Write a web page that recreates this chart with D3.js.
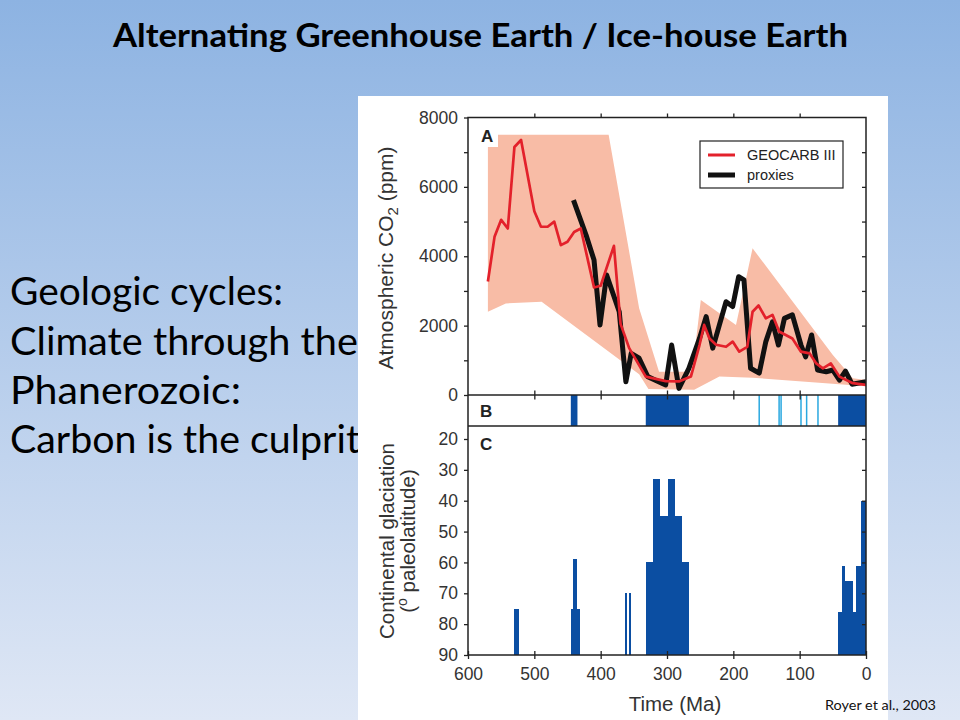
<!DOCTYPE html>
<html><head><meta charset="utf-8">
<script src="https://cdn.jsdelivr.net/npm/d3@7"></script>
<style>html,body{margin:0;padding:0;overflow:hidden;background:#fff}svg{display:block}</style>
</head><body>
<svg id="chart" width="960" height="720"></svg>
<script>
// ---------- data ----------
const timeTicks = [600, 500, 400, 300, 200, 100, 0];
const co2Ticks = [0, 1000, 2000, 3000, 4000, 5000, 6000, 7000, 8000];
const latTicks = [20, 30, 40, 50, 60, 70, 80, 90];

const geocarbAge = [570,560,550,540,530,520,500,490,480,470,460,450,440,430,410,400,380,370,357,332,302,282,264,251,244,236,226,211,201,191,179,171,162,151,141,131,121,111,98,85,75,65,53,40,20,0];
const geocarbCO2 = [3270,4560,5050,4800,7150,7350,5300,4850,4850,5000,4320,4420,4700,4800,3100,3150,4300,2050,1350,530,400,390,530,1440,2020,1630,1450,1390,1540,1250,1390,2400,2580,2210,2310,1830,1730,1630,1250,1200,910,770,910,530,340,290];

const proxyAge = [441,422,410,401,391,372,362,354,342,329,302,293,282,267,251,241,231,221,211,201,192,184,174,161,151,141,132,123,111,98,91,82,73,60,50,40,31,21,0];
const proxyCO2 = [5620,4610,3890,2020,3460,2400,380,1200,1060,530,290,1440,190,770,1630,2260,1350,2020,2690,2550,3410,3320,770,630,1540,2110,1440,2210,2310,1440,1100,1730,720,670,720,430,690,310,380];

const bandUpperAge = [570,388,342,312,262,249,196,171,50,20,0];
const bandUpperCO2 = [7500,7500,2500,670,670,2740,2020,4230,1150,480,430];
const bandLowerAge = [570,543,489,342,328,259,221,171,0];
const bandLowerCO2 = [2400,2640,2690,600,170,150,530,500,250];

const glacialDarkStart = [445, 332, 42];
const glacialDarkEnd = [435, 267, 0];
const glacialLight = [161, 131, 128, 98, 89.5, 72.4];

const glacBarStart = [530,445,441,363.5,357,332,321,310,298,288,277.5,42,36,31.7,20.2,15.1,7.5];
const glacBarEnd   = [523,431,436,361,354,321,310,298,288,277.5,266.5,36,31.7,20.2,15.1,7.5,0];
const glacBarLat   = [75,75,59,70,70,60,33,45,33,45,60,76,61,66,76,61,40];

const leftLines = ["Geologic cycles:", "Climate through the", "Phanerozoic:", "Carbon is the culprit"];

// ---------- setup ----------
const svg = d3.select("#chart");
const defs = svg.append("defs");
const grad = defs.append("linearGradient").attr("id","bg").attr("x1",0).attr("y1",0).attr("x2",0).attr("y2",1);
grad.append("stop").attr("offset","0%").attr("stop-color","#8db3e2");
grad.append("stop").attr("offset","100%").attr("stop-color","#dfe7f5");
svg.append("rect").attr("width",960).attr("height",720).attr("fill","url(#bg)");

// title
svg.append("text").attr("x",113).attr("y",47)
  .attr("font-family","Lato, 'Open Sans', sans-serif").attr("font-weight","bold").attr("font-size",32)
  .attr("textLength",735).attr("lengthAdjust","spacingAndGlyphs").attr("fill","#000")
  .text("Alternating Greenhouse Earth / Ice-house Earth");

// left text
const leftW = [273, 348, 231, 350];
const leftY = [305, 355, 404, 453];
leftLines.forEach((t,i) => {
  svg.append("text").attr("x",10).attr("y",leftY[i])
    .attr("font-family","Lato, 'Open Sans', sans-serif").attr("font-size",38)
    .attr("textLength",leftW[i]).attr("lengthAdjust","spacingAndGlyphs").attr("fill","#000").text(t);
});

// white figure area
svg.append("rect").attr("x",358).attr("y",96).attr("width",530).attr("height",624).attr("fill","#fff");

// Royer
svg.append("text").attr("x",825).attr("y",710)
  .attr("font-family","Lato, 'Open Sans', sans-serif").attr("font-size",14)
  .attr("textLength",111).attr("lengthAdjust","spacingAndGlyphs").attr("fill","#111").text("Royer et al., 2003");

// ---------- scales ----------
const L = 468, R = 866, TA = 117.5, BA = 395, BB = 426, BC = 655;
const x = d3.scaleLinear().domain([600, 0]).range([L, R]);
const yA = d3.scaleLinear().domain([0, 8000]).range([BA, TA]);
const yC = d3.scaleLinear().domain([20, 90]).range([439, BC]);

const fontF = "'Liberation Sans', Arial, Helvetica, sans-serif";
const ink = "#222";

// ---------- panel A ----------
const gA = svg.append("g");
gA.append("defs").append("clipPath").attr("id","clipA").append("rect")
  .attr("x",L).attr("y",TA).attr("width",R-L).attr("height",BA-TA);

const bandPts = bandUpperAge.map((a,i)=>[a,bandUpperCO2[i]])
  .concat(bandLowerAge.map((a,i)=>[a,bandLowerCO2[i]]).reverse());
const ptLine = d3.line().x(d=>x(d[0])).y(d=>yA(d[1]));
gA.append("path").attr("d", ptLine(bandPts) + "Z").attr("fill","#f8bca6").attr("clip-path","url(#clipA)");

// A label box
gA.append("rect").attr("x",479).attr("y",123).attr("width",19).attr("height",24).attr("fill","#fff");
gA.append("text").attr("x",481).attr("y",141.5).attr("font-family",fontF).attr("font-weight","bold")
  .attr("font-size",17).attr("fill",ink).text("A");

const proxyLine = d3.line().x((d,i)=>x(proxyAge[i])).y((d,i)=>yA(proxyCO2[i]));
gA.append("path").attr("d",proxyLine(proxyAge)).attr("fill","none").attr("stroke","#111")
  .attr("stroke-width",5).attr("stroke-linejoin","round").attr("clip-path","url(#clipA)");
const geoLine = d3.line().x((d,i)=>x(geocarbAge[i])).y((d,i)=>yA(geocarbCO2[i]));
gA.append("path").attr("d",geoLine(geocarbAge)).attr("fill","none").attr("stroke","#e3212b")
  .attr("stroke-width",2.7).attr("stroke-linejoin","round").attr("clip-path","url(#clipA)");

// legend
const lg = gA.append("g");
lg.append("rect").attr("x",700).attr("y",141).attr("width",143).attr("height",47)
  .attr("fill","#fff").attr("stroke",ink).attr("stroke-width",1.2);
lg.append("line").attr("x1",708).attr("x2",735).attr("y1",155).attr("y2",155).attr("stroke","#e3212b").attr("stroke-width",3);
lg.append("line").attr("x1",708).attr("x2",735).attr("y1",175).attr("y2",175).attr("stroke","#111").attr("stroke-width",5);
lg.append("text").attr("x",747).attr("y",160).attr("font-family",fontF).attr("font-size",14.5).attr("fill",ink).text("GEOCARB III");
lg.append("text").attr("x",747).attr("y",180).attr("font-family",fontF).attr("font-size",14.5).attr("fill",ink).text("proxies");

// ---------- panel B ----------
const gB = svg.append("g");
gB.selectAll("rect.dark").data(glacialDarkStart).join("rect")
  .attr("x",(d)=>x(d)).attr("width",(d,i)=>x(glacialDarkEnd[i])-x(d))
  .attr("y",BA).attr("height",BB-BA).attr("fill","#0b4ea2");
gB.selectAll("line.light").data(glacialLight).join("line")
  .attr("x1",d=>x(d)).attr("x2",d=>x(d)).attr("y1",BA).attr("y2",BB)
  .attr("stroke","#2aa8e0").attr("stroke-width",1.5);
gB.append("text").attr("x",480).attr("y",417).attr("font-family",fontF).attr("font-weight","bold")
  .attr("font-size",17).attr("fill",ink).text("B");

// ---------- panel C ----------
const gC = svg.append("g");
gC.selectAll("rect").data(glacBarStart).join("rect")
  .attr("x",d=>x(d)).attr("width",(d,i)=>x(glacBarEnd[i])-x(d))
  .attr("y",(d,i)=>yC(glacBarLat[i])).attr("height",(d,i)=>BC-yC(glacBarLat[i]))
  .attr("fill","#0b4ea2").attr("shape-rendering","crispEdges");
gC.append("text").attr("x",480).attr("y",449.5).attr("font-family",fontF).attr("font-weight","bold")
  .attr("font-size",17).attr("fill",ink).text("C");

// ---------- frame & axes ----------
const fr = svg.append("g").attr("fill","none").attr("stroke",ink).attr("stroke-width",1.5);
fr.append("rect").attr("x",L).attr("y",TA).attr("width",R-L).attr("height",BC-TA);
fr.append("line").attr("x1",L).attr("x2",R).attr("y1",BA).attr("y2",BA);
fr.append("line").attr("x1",L).attr("x2",R).attr("y1",BB).attr("y2",BB);

function styleAxis(g){
  g.select(".domain").remove();
  g.selectAll(".tick line").attr("stroke",ink).attr("stroke-width",1.3);
  g.selectAll(".tick text").attr("fill","#333").attr("font-family",fontF).attr("font-size",17.5);
}
// A left
svg.append("g").attr("transform",`translate(${L},0)`)
  .call(d3.axisLeft(yA).tickValues(co2Ticks).tickSize(4).tickPadding(6).tickFormat(d=>d%2000===0?d:""))
  .call(styleAxis);
// A right (inward)
svg.append("g").attr("transform",`translate(${R},0)`)
  .call(d3.axisLeft(yA).tickValues(co2Ticks.slice(1,-1)).tickSize(4).tickFormat(""))
  .call(styleAxis);
// A top (outward)
svg.append("g").attr("transform",`translate(0,${TA})`)
  .call(d3.axisTop(x).tickValues(timeTicks.slice(1,-1)).tickSize(4).tickFormat(""))
  .call(styleAxis);
// A/B boundary crossing ticks
svg.append("g").attr("transform",`translate(0,${BA})`)
  .call(d3.axisTop(x).tickValues(timeTicks.slice(1,-1)).tickSize(4.5).tickFormat(""))
  .call(styleAxis);
svg.append("g").attr("transform",`translate(0,${BA})`)
  .call(d3.axisBottom(x).tickValues(timeTicks.slice(1,-1)).tickSize(4.5).tickFormat(""))
  .call(styleAxis);
// C left
svg.append("g").attr("transform",`translate(${L},0)`)
  .call(d3.axisLeft(yC).tickValues(latTicks).tickSize(4).tickPadding(6))
  .call(styleAxis);
// C right (inward)
svg.append("g").attr("transform",`translate(${R},0)`)
  .call(d3.axisLeft(yC).tickValues(latTicks.slice(0,-1)).tickSize(4).tickFormat(""))
  .call(styleAxis);
// C bottom crossing
svg.append("g").attr("transform",`translate(0,${BC})`)
  .call(d3.axisBottom(x).tickValues(timeTicks).tickSize(4).tickPadding(9))
  .call(styleAxis);
svg.append("g").attr("transform",`translate(0,${BC})`)
  .call(d3.axisTop(x).tickValues(timeTicks).tickSize(4).tickFormat(""))
  .call(styleAxis);

// axis titles
const t1 = svg.append("text").attr("transform","translate(393,258) rotate(-90)")
  .attr("text-anchor","middle").attr("font-family",fontF).attr("font-size",21).attr("fill","#333");
t1.append("tspan").text("Atmospheric CO");
t1.append("tspan").attr("font-size",15).attr("dy",5).text("2");
t1.append("tspan").attr("dy",-5).text(" (ppm)");

svg.append("text").attr("transform","translate(394,541) rotate(-90)")
  .attr("text-anchor","middle").attr("font-family",fontF).attr("font-size",20.5).attr("fill","#333")
  .text("Continental glaciation");
const t3 = svg.append("text").attr("transform","translate(415,541) rotate(-90)")
  .attr("text-anchor","middle").attr("font-family",fontF).attr("font-size",20.5).attr("fill","#333");
t3.append("tspan").text("(");
t3.append("tspan").attr("font-size",14).attr("dy",-8).text("o");
t3.append("tspan").attr("dy",8).text(" paleolatitude)");

svg.append("text").attr("x",675).attr("y",711).attr("text-anchor","middle")
  .attr("font-family",fontF).attr("font-size",20.5).attr("fill","#333").text("Time (Ma)");
</script>
</body></html>
